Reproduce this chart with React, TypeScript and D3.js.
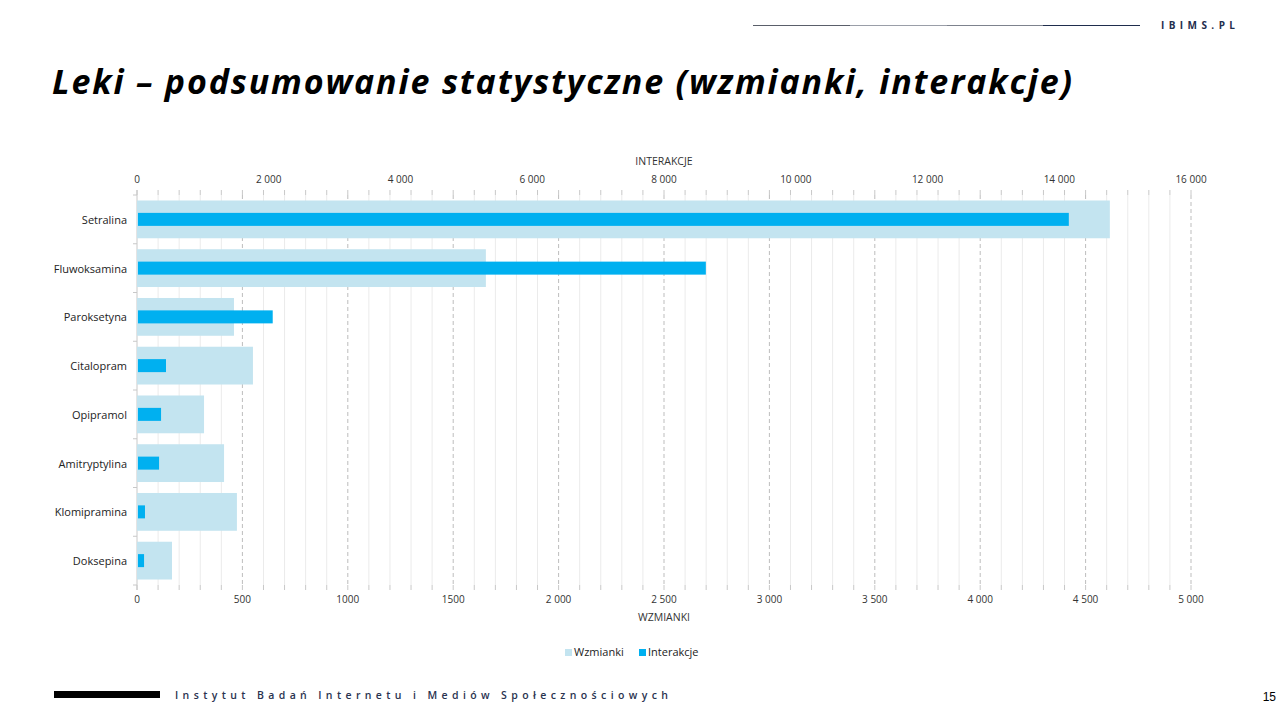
import React from "react";
import * as d3 from "d3";

const categories = ["Setralina", "Fluwoksamina", "Paroksetyna", "Citalopram", "Opipramol", "Amitryptylina", "Klomipramina", "Doksepina"];
const wzmianki = [4615, 1655, 460, 550, 318, 413, 474, 166];
const interakcje = [14130, 8620, 2045, 425, 350, 320, 106, 92];
const bottomTicks = [0, 500, 1000, 1500, 2000, 2500, 3000, 3500, 4000, 4500, 5000];
const bottomTickLabels = ["0", "500", "1000", "1500", "2 000", "2 500", "3 000", "3 500", "4 000", "4 500", "5 000"];
const topTicks = [0, 2000, 4000, 6000, 8000, 10000, 12000, 14000, 16000];
const topTickLabels = ["0", "2 000", "4 000", "6 000", "8 000", "10 000", "12 000", "14 000", "16 000"];
const minorStep = 100;

const FONT = "'Open Sans', Lato, sans-serif";
const C_LIGHT = "#C3E4F0";
const C_DARK = "#00B0F0";

export default function App() {
  const left = 137, right = 1191, top = 195, bottom = 585;
  const xW = d3.scaleLinear().domain([0, 5000]).range([left, right]);
  const xI = d3.scaleLinear().domain([0, 16000]).range([left, right]);
  const y = d3.scaleBand().domain(categories).range([top, bottom]).paddingInner(0.225).paddingOuter(0.1125);
  const minor = d3.range(minorStep, 5000 + 1, minorStep).filter((v) => v % 500 !== 0);
  const bandStep = y.step();
  const boundaries = d3.range(categories.length + 1).map((i) => top + i * bandStep);
  const innerH = 13;

  return (
    <svg width={1280} height={720} style={{ position: "absolute", left: 0, top: 0, background: "#fff" }}>
      {/* header */}
      <line x1={753} x2={850} y1={25.5} y2={25.5} stroke="#5a5f6a" strokeWidth={1} />
      <line x1={850} x2={947} y1={25.5} y2={25.5} stroke="#9a9ea8" strokeWidth={1} />
      <line x1={947} x2={1043} y1={25.5} y2={25.5} stroke="#7d828d" strokeWidth={1} />
      <line x1={1043} x2={1140} y1={25.5} y2={25.5} stroke="#1F2D4D" strokeWidth={1} />
      <text x={1161} y={29} fontFamily={FONT} fontSize={10} fontWeight={700} fill="#1F2D4D" textLength={74} lengthAdjust="spacing">IBIMS.PL</text>

      {/* title */}
      <text x={52} y={94} fontFamily={FONT} fontSize={34} fontWeight={700} fontStyle="italic" fill="#000" textLength={1020} lengthAdjust="spacing">Leki – podsumowanie statystyczne (wzmianki, interakcje)</text>

      {/* minor gridlines */}
      {minor.map((v) => (
        <line key={"m" + v} x1={xW(v)} x2={xW(v)} y1={top} y2={bottom} stroke="#EBEBEB" strokeWidth={1} />
      ))}
      {/* major dashed gridlines */}
      {bottomTicks.filter((v) => v > 0).map((v) => (
        <line key={"M" + v} x1={xW(v)} x2={xW(v)} y1={top} y2={bottom} stroke="#BDBDBD" strokeWidth={1} strokeDasharray="4,3" />
      ))}

      {/* ticks top and bottom */}
      {d3.range(0, 5000 + 1, minorStep).map((v) => (
        <g key={"t" + v}>
          <line x1={xW(v)} x2={xW(v)} y1={top - 5} y2={top} stroke="#C8C8C8" />
          <line x1={xW(v)} x2={xW(v)} y1={bottom} y2={bottom + 5} stroke="#C8C8C8" />
        </g>
      ))}
      {/* left axis */}
      <line x1={left} x2={left} y1={top - 5} y2={bottom + 5} stroke="#C8C8C8" />
      {boundaries.map((b, i) => (
        <line key={"b" + i} x1={left - 4} x2={left} y1={b} y2={b} stroke="#C8C8C8" />
      ))}

      {/* bars */}
      {categories.map((c, i) => (
        <g key={c}>
          <rect x={xW(0)} y={y(c)!} width={xW(wzmianki[i]) - xW(0)} height={y.bandwidth()} fill={C_LIGHT} />
          <rect x={xI(0) + 1} y={y(c)! + y.bandwidth() / 2 - innerH / 2} width={xI(interakcje[i]) - xI(0)} height={innerH} fill={C_DARK} />
          <text x={127} y={y(c)! + y.bandwidth() / 2} textAnchor="end" dominantBaseline="central" fontFamily={FONT} fontSize={11} fill="#222">{c}</text>
        </g>
      ))}

      {/* top axis labels */}
      {topTicks.map((v, i) => (
        <text key={"tl" + v} x={xI(v)} y={183} textAnchor="middle" fontFamily={FONT} fontSize={10} fill="#333">{topTickLabels[i]}</text>
      ))}
      <text x={664} y={165} textAnchor="middle" fontFamily={FONT} fontSize={10.5} fill="#333">INTERAKCJE</text>

      {/* bottom axis labels */}
      {bottomTicks.map((v, i) => (
        <text key={"bl" + v} x={xW(v)} y={603} textAnchor="middle" fontFamily={FONT} fontSize={10} fill="#333">{bottomTickLabels[i]}</text>
      ))}
      <text x={664} y={621} textAnchor="middle" fontFamily={FONT} fontSize={10.5} fill="#333">WZMIANKI</text>

      {/* legend */}
      <rect x={565} y={649} width={7} height={7} fill={C_LIGHT} />
      <text x={574} y={656} fontFamily={FONT} fontSize={11} fill="#222">Wzmianki</text>
      <rect x={639} y={649} width={7} height={7} fill={C_DARK} />
      <text x={648} y={656} fontFamily={FONT} fontSize={11} fill="#222">Interakcje</text>

      {/* footer */}
      <rect x={54} y={691} width={106} height={7} fill="#000" />
      <text x={175} y={699} fontFamily={FONT} fontSize={10.5} fontWeight={600} fill="#2A3350" textLength={493} lengthAdjust="spacing">Instytut Badań Internetu i Mediów Społecznościowych</text>
      <text x={1276} y={701} textAnchor="end" fontFamily="'Liberation Sans', Arial, sans-serif" fontSize={12} fill="#000">15</text>
    </svg>
  );
}
